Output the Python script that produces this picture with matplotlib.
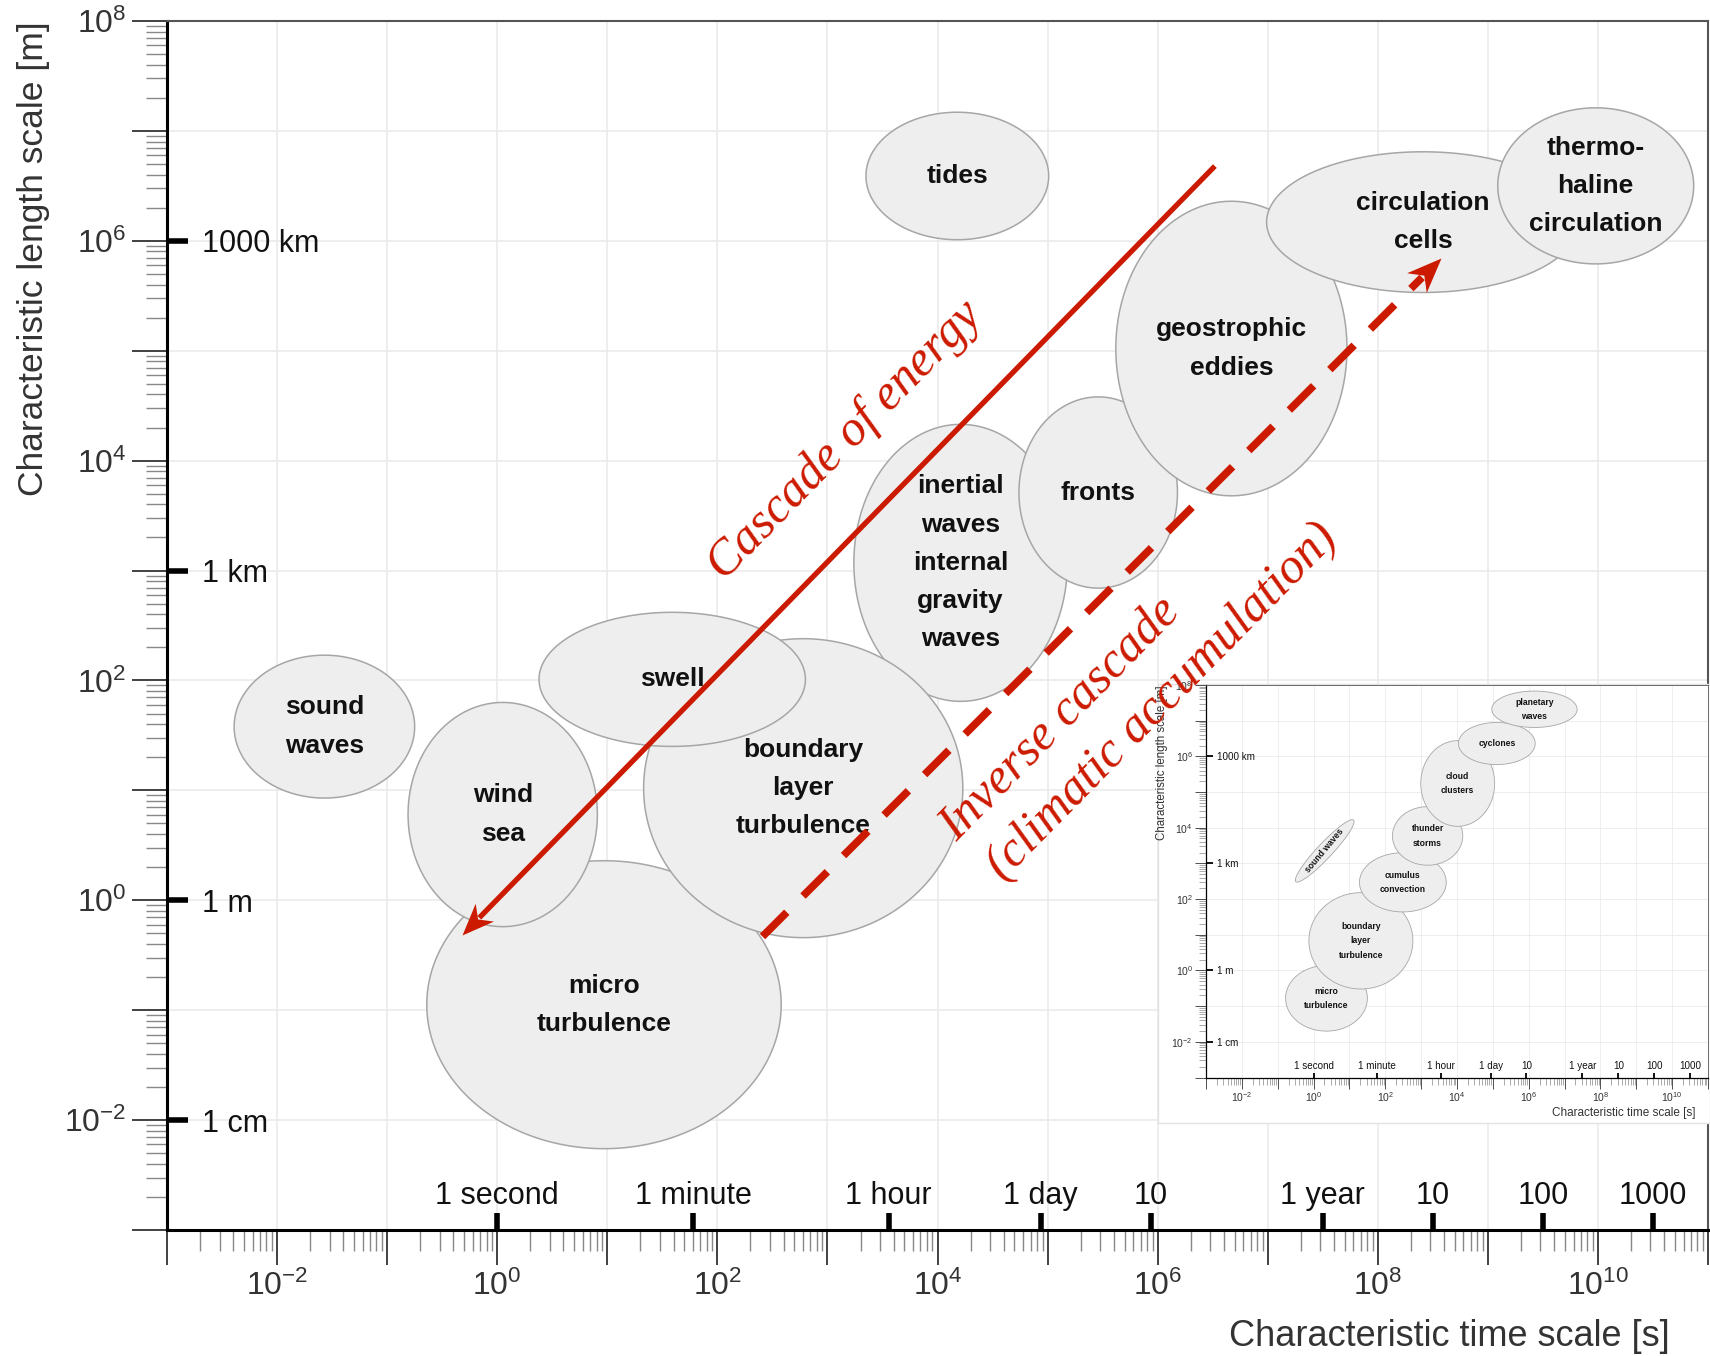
import numpy as np
import matplotlib.pyplot as plt
from matplotlib.patches import Rectangle
from matplotlib.path import Path
from matplotlib.markers import MarkerStyle
from matplotlib.transforms import Affine2D
from matplotlib.ticker import LogLocator, FuncFormatter, NullFormatter

plt.rcParams['font.family'] = ['Liberation Sans', 'DejaVu Sans']
plt.rcParams['mathtext.default'] = 'regular'

# ocean processes (main panel), drawing order; centres/semi-axes in decades (log10 s, log10 m)
ocean_names = ['micro\nturbulence', 'inertial\nwaves\ninternal\ngravity\nwaves',
               'boundary\nlayer\nturbulence', 'swell', 'wind\nsea', 'sound\nwaves',
               'fronts', 'geostrophic\neddies', 'circulation\ncells',
               'thermo-\nhaline\ncirculation', 'tides']
ocean_logt = [0.97, 4.21, 2.78, 1.59, 0.05, -1.57, 5.46, 6.67, 8.41, 9.98, 4.18]
ocean_logl = [-0.95, 3.07, 1.02, 2.01, 0.78, 1.58, 3.71, 5.02, 6.17, 6.50, 6.59]
ocean_wt = [1.61, 0.97, 1.45, 1.21, 0.86, 0.82, 0.72, 1.05, 1.42, 0.89, 0.83]
ocean_wl = [1.31, 1.26, 1.36, 0.61, 1.02, 0.65, 0.87, 1.34, 0.64, 0.71, 0.58]
ocean_tilt = [0] * 11

# atmospheric processes (inset)
atmos_names = ['micro\nturbulence', 'boundary\nlayer\nturbulence', 'cumulus\nconvection',
               'thunder\nstorms', 'cloud\nclusters', 'cyclones', 'planetary\nwaves',
               'sound waves']
atmos_logt = [0.36, 1.32, 2.49, 3.18, 4.02, 5.11, 6.16, 0.31]
atmos_logl = [-0.78, 0.83, 2.47, 3.77, 5.24, 6.36, 7.32, 3.35]
atmos_wt = [1.14, 1.45, 1.21, 0.98, 1.03, 1.07, 1.19, 1.18]
atmos_wl = [0.92, 1.35, 0.83, 0.82, 1.20, 0.59, 0.51, 0.21]
atmos_tilt = [0, 0, 0, 0, 0, 0, 0, 47]

time_names = ['1 second', '1 minute', '1 hour', '1 day', '10', '1 year', '10', '100', '1000']
time_s = [1, 60, 3600, 86400, 864000, 3.156e7, 3.156e8, 3.156e9, 3.156e10]
length_names = ['1000 km', '1 km', '1 m', '1 cm']
length_m = [1e6, 1e3, 1, 1e-2]

# arrows (log10 s, log10 m)
cascade_from = (6.52, 6.68)
cascade_to = (-0.32, -0.32)
inverse_from = (2.41, -0.33)
inverse_to = (8.575, 5.84)

red = '#cc1a00'


def decade_label(v, pos):
    e = int(round(np.log10(v)))
    return f'$10^{{{e}}}$' if e % 2 == 0 else ''


def draw_panel(ax, names, logt, logl, wt, wl, tilt, s):
    ax.set_xscale('log')
    ax.set_yscale('log')
    ax.set_xlim(1e-3, 1e11)
    ax.set_ylim(1e-3, 1e8)
    for axis in (ax.xaxis, ax.yaxis):
        axis.set_major_locator(LogLocator(base=10, numticks=30))
        axis.set_minor_locator(LogLocator(base=10, subs=np.arange(2, 10), numticks=30))
        axis.set_major_formatter(FuncFormatter(decade_label))
        axis.set_minor_formatter(NullFormatter())
    ax.grid(which='major', color='#ebebeb', lw=max(1.2 * s, 0.6))
    ax.set_axisbelow(True)
    ax.tick_params(which='major', direction='out', length=25 * s, width=max(1.3 * s, 0.6),
                   color='#333333', labelsize=23 * s, labelcolor='#333333', pad=4 * s)
    ax.tick_params(which='minor', direction='out', length=15 * s, width=max(1.0 * s, 0.5),
                   color='#888888')
    for side in ['left', 'bottom']:
        ax.spines[side].set_linewidth(max(2.2 * s, 0.9))
        ax.spines[side].set_color('black')
    for side in ['top', 'right']:
        ax.spines[side].set_linewidth(max(1.5 * s, 0.6))
        ax.spines[side].set_color('#555555')

    ax.set_xlabel('Characteristic time scale [s]', fontsize=26 * s, color='#333333', ha='right')
    ax.xaxis.set_label_coords(0.975, -0.074)
    ax.set_ylabel('Characteristic length scale [m]', fontsize=25.5 * s, color='#333333', ha='right')
    ax.yaxis.set_label_coords(-0.076, 1.0)

    # named time / length marks inside the axes
    ax.plot(time_s, np.zeros(len(time_s)), transform=ax.get_xaxis_transform(), ls='none',
            marker=2, ms=12 * s, mew=4 * s, color='black', clip_on=False, zorder=5)
    ax.plot(np.zeros(len(length_m)), length_m, transform=ax.get_yaxis_transform(), ls='none',
            marker=1, ms=15 * s, mew=4 * s, color='black', clip_on=False, zorder=5)
    for name, t in zip(time_names, time_s):
        ax.annotate(name, xy=(t, 0), xycoords=('data', 'axes fraction'),
                    xytext=(0, 18.5 * s), textcoords='offset points',
                    ha='center', va='baseline', fontsize=22 * s, color='#111111')
    for name, l in zip(length_names, length_m):
        ax.annotate(name, xy=(0, l), xycoords=('axes fraction', 'data'),
                    xytext=(25 * s, 0), textcoords='offset points',
                    ha='left', va='center_baseline', fontsize=22 * s, color='#111111')

    tt = np.linspace(0, 2 * np.pi, 300)
    for name, x0, y0, a, b, ang in zip(names, logt, logl, wt, wl, tilt):
        th = np.radians(ang)
        u = a * np.cos(tt)
        v = b * np.sin(tt)
        lx = x0 + u * np.cos(th) - v * np.sin(th)
        ly = y0 + u * np.sin(th) + v * np.cos(th)
        ax.fill(10 ** lx, 10 ** ly, facecolor='#eeeeee', edgecolor='#a6a6a6',
                lw=max(1.1 * s, 0.6), zorder=2)
        ax.text(10 ** x0, 10 ** y0, name, ha='center', va='center', fontsize=19 * s,
                fontweight='bold', linespacing=1.75, rotation=ang + 3 if ang else 0,
                zorder=3, color='#111111')


fig = plt.figure(figsize=(17.1, 13.56), dpi=100)
ax = fig.add_axes([167 / 1710, 1 - 1230 / 1356, 1541 / 1710, 1209 / 1356])
draw_panel(ax, ocean_names, ocean_logt, ocean_logl, ocean_wt, ocean_wl, ocean_tilt, 1.0)


def pt(p):
    return 10 ** p[0], 10 ** p[1]


def along(p, q, f):
    return (p[0] + (q[0] - p[0]) * f, p[1] + (q[1] - p[1]) * f)


# notched arrow head, tip at the origin, pointing along +x
head = Path([(0, 0), (-1, 0.4), (-0.7, 0), (-1, -0.4), (0, 0)],
            [Path.MOVETO, Path.LINETO, Path.LINETO, Path.LINETO, Path.CLOSEPOLY])


def arrow_head(p_from, p_to, size):
    ang = np.degrees(np.arctan2(p_to[1] - p_from[1], p_to[0] - p_from[0]))
    x, y = pt(p_to)
    ax.plot([x], [y], ls='none', marker=MarkerStyle(head, transform=Affine2D().rotate_deg(ang)),
            ms=size, mew=0, color=red, zorder=4)


# energy cascade (solid) and inverse cascade (dashed)
c_end = along(cascade_from, cascade_to, 0.977)
ax.plot([pt(cascade_from)[0], pt(c_end)[0]], [pt(cascade_from)[1], pt(c_end)[1]],
        color=red, lw=3.8, solid_capstyle='butt', zorder=4)
arrow_head(cascade_from, cascade_to, 46)
i_end = along(inverse_from, inverse_to, 0.972)
ax.plot([pt(inverse_from)[0], pt(i_end)[0]], [pt(inverse_from)[1], pt(i_end)[1]],
        color=red, lw=5.5, dashes=(4.5, 3), dash_capstyle='butt', zorder=4)
arrow_head(inverse_from, inverse_to, 50)

# inset with the atmospheric processes
box = Rectangle((1158 / 1710, 1 - 1123 / 1356), (1710 - 1158) / 1710, (1123 - 684) / 1356,
                transform=fig.transFigure, facecolor='white', edgecolor='#e2e2e2', lw=1,
                zorder=1)
fig.add_artist(box)
ax.set_zorder(0)
inset = fig.add_axes([1206 / 1710, 1 - 1077.5 / 1356, 502 / 1710, 392.5 / 1356])
inset.set_zorder(2)
draw_panel(inset, atmos_names, atmos_logt, atmos_logl, atmos_wt, atmos_wl, atmos_tilt, 0.325)

serif = dict(family='Liberation Serif', style='italic', color=red, fontsize=36,
             rotation=45.5, rotation_mode='anchor', ha='center', va='center',
             transform=ax.transData, zorder=5)
fig.text(10 ** 3.16, 10 ** 4.18, 'Cascade of energy', **serif)
fig.text(10 ** 5.12, 10 ** 1.65, 'Inverse cascade', **serif)
fig.text(10 ** 6.04, 10 ** 1.80, '(climatic accumulation)', **serif)

fig.savefig('out.png', dpi=100)
